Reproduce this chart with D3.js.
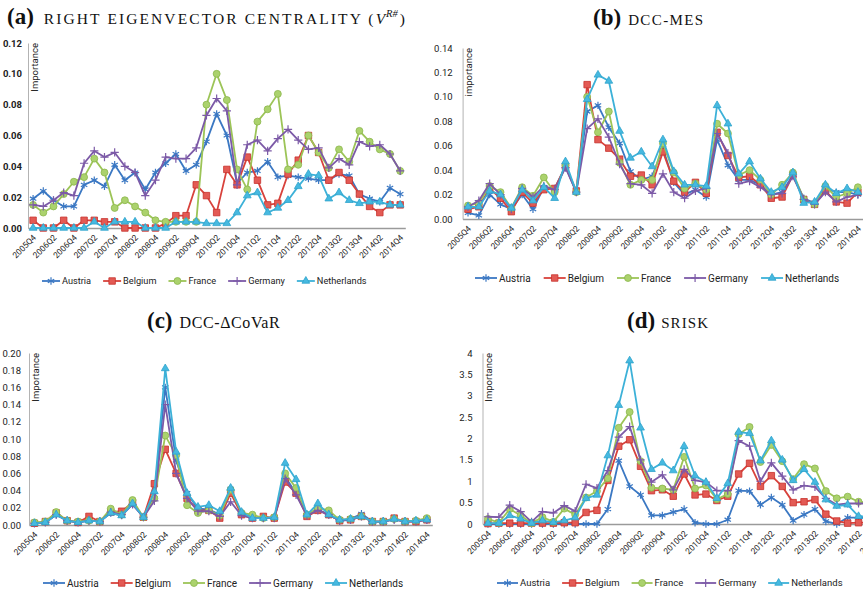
<!DOCTYPE html>
<html>
<head>
<meta charset="utf-8">
<script src="https://cdn.jsdelivr.net/npm/d3@7/dist/d3.min.js"></script>
<style>
    body { margin: 0; background: #fff; }
    svg text { font-family: Roboto, "Noto Sans", sans-serif; fill: #222; }
    .title text, text.title { font-family: "Liberation Serif", "DejaVu Serif", serif; fill: #111; }
</style>
</head>
<body>
<svg id="chart" width="863" height="593"></svg>
<script>
var quarters = ["2005Q4",
    "2006Q1","2006Q2","2006Q3","2006Q4","2007Q1","2007Q2","2007Q3","2007Q4",
    "2008Q1","2008Q2","2008Q3","2008Q4","2009Q1","2009Q2","2009Q3","2009Q4",
    "2010Q1","2010Q2","2010Q3","2010Q4","2011Q1","2011Q2","2011Q3","2011Q4",
    "2012Q1","2012Q2","2012Q3","2012Q4","2013Q1","2013Q2","2013Q3","2013Q4",
    "2014Q1","2014Q2","2014Q3","2014Q4"];
var countries = ["Austria", "Belgium", "France", "Germany", "Netherlands"];

// (a) right eigenvector centrality
var eigAustria = [0.019,0.024,0.018,0.014,0.014,0.028,0.031,0.027,0.041,0.031,0.036,0.025,0.036,0.042,0.048,0.037,0.041,0.056,0.074,0.060,0.029,0.036,0.037,0.043,0.033,0.034,0.033,0.032,0.031,0.031,0.035,0.034,0.022,0.019,0.017,0.026,0.022];
var eigBelgium = [0.005,0,0,0.005,0,0.005,0.005,0.004,0.004,0,0,0,0,0.003,0.008,0.008,0.028,0.021,0.010,0.038,0.028,0.046,0.031,0.015,0.016,0.035,0.044,0.060,0.049,0.031,0.036,0.031,0.022,0.014,0.010,0.015,0.015];
var eigFrance = [0.015,0.010,0.014,0.022,0.030,0.033,0.045,0.036,0.013,0.018,0.014,0.010,0.005,0.004,0.004,0.004,0.004,0.080,0.100,0.083,0.038,0.025,0.069,0.077,0.087,0.038,0.041,0.060,0.049,0.039,0.051,0.043,0.063,0.056,0.051,0.048,0.037];
var eigGermany = [0.015,0.014,0.018,0.023,0.021,0.042,0.050,0.046,0.049,0.040,0.036,0.021,0.031,0.046,0.045,0.045,0.052,0.073,0.084,0.076,0.028,0.054,0.057,0.050,0.058,0.064,0.057,0.051,0.052,0.039,0.045,0.041,0.056,0.053,0.054,0.048,0.037];
var eigNetherlands = [0,0,0,0,0,0,0.004,0,0.004,0.004,0.004,0,0,0,0.004,0.004,0.004,0.003,0.003,0.003,0.010,0.021,0.023,0.010,0.013,0.018,0.027,0.035,0.034,0.019,0.023,0.018,0.016,0.017,0.017,0.015,0.015];

// (b) DCC-MES
var mesAustria = [0.005,0.003,0.020,0.012,0.008,0.020,0.008,0.026,0.025,0.043,0.022,0.088,0.093,0.075,0.062,0.039,0.032,0.035,0.058,0.030,0.020,0.024,0.018,0.065,0.044,0.032,0.032,0.028,0.020,0.022,0.036,0.017,0.013,0.025,0.022,0.022,0.020];
var mesBelgium = [0.008,0.010,0.025,0.017,0.006,0.022,0.013,0.024,0.025,0.043,0.023,0.110,0.065,0.058,0.049,0.035,0.036,0.028,0.055,0.031,0.022,0.030,0.021,0.071,0.052,0.034,0.035,0.028,0.017,0.018,0.036,0.016,0.012,0.023,0.014,0.013,0.022];
var mesFrance = [0.011,0.013,0.027,0.022,0.009,0.026,0.019,0.034,0.022,0.044,0.022,0.100,0.071,0.088,0.046,0.028,0.032,0.032,0.062,0.038,0.025,0.029,0.024,0.078,0.070,0.036,0.040,0.032,0.020,0.028,0.038,0.016,0.012,0.027,0.018,0.021,0.026];
var mesGermany = [0.010,0.015,0.029,0.020,0.008,0.025,0.018,0.027,0.024,0.042,0.022,0.074,0.082,0.067,0.045,0.029,0.028,0.021,0.037,0.022,0.017,0.023,0.025,0.070,0.054,0.029,0.031,0.026,0.020,0.021,0.035,0.016,0.012,0.022,0.014,0.018,0.020];
var mesNetherlands = [0.010,0.010,0.023,0.020,0.009,0.024,0.015,0.026,0.017,0.047,0.022,0.098,0.118,0.113,0.072,0.050,0.055,0.043,0.065,0.039,0.028,0.028,0.027,0.093,0.078,0.037,0.047,0.033,0.022,0.026,0.038,0.013,0.014,0.028,0.021,0.025,0.022];

// (c) DCC-DeltaCoVaR
var covAustria = [0.002,0.003,0.012,0.005,0.003,0.005,0.004,0.014,0.011,0.024,0.009,0.035,0.160,0.075,0.037,0.019,0.018,0.012,0.042,0.013,0.008,0.008,0.008,0.056,0.037,0.011,0.018,0.012,0.005,0.007,0.013,0.004,0.004,0.007,0.004,0.005,0.006];
var covBelgium = [0.002,0.004,0.014,0.005,0.003,0.010,0.004,0.015,0.016,0.026,0.009,0.048,0.088,0.060,0.031,0.017,0.017,0.008,0.037,0.012,0.008,0.010,0.008,0.050,0.037,0.010,0.017,0.012,0.005,0.006,0.010,0.004,0.004,0.008,0.004,0.004,0.006];
var covFrance = [0.003,0.004,0.015,0.005,0.004,0.005,0.004,0.019,0.012,0.029,0.009,0.031,0.104,0.081,0.023,0.014,0.017,0.011,0.041,0.014,0.012,0.008,0.009,0.060,0.043,0.012,0.020,0.017,0.006,0.007,0.010,0.004,0.004,0.007,0.004,0.005,0.008];
var covGermany = [0.002,0.003,0.012,0.005,0.003,0.005,0.004,0.015,0.012,0.024,0.009,0.028,0.140,0.060,0.031,0.016,0.016,0.010,0.027,0.011,0.008,0.008,0.008,0.054,0.035,0.011,0.017,0.012,0.005,0.006,0.010,0.004,0.004,0.006,0.004,0.004,0.006];
var covNetherlands = [0.002,0.003,0.012,0.005,0.003,0.005,0.004,0.014,0.011,0.025,0.009,0.039,0.182,0.085,0.037,0.021,0.023,0.016,0.043,0.015,0.008,0.008,0.009,0.072,0.053,0.012,0.025,0.012,0.006,0.007,0.010,0.004,0.004,0.007,0.004,0.005,0.006];

// (d) SRISK
var sriskAustria = [0,0,0,0,0,0,0,0,0,0,0,0.35,1.48,0.88,0.68,0.20,0.20,0.28,0.35,0.03,0,0,0.10,0.78,0.77,0.45,0.62,0.45,0.08,0.22,0.35,0.06,0,0.15,0.15,0.14,0.12];
var sriskBelgium = [0.01,0.02,0.02,0.02,0.02,0.02,0.02,0.03,0.03,0.27,0.32,1.02,1.82,1.97,1.35,0.78,0.80,0.65,1.17,0.68,0.70,0.55,0.65,1.17,1.42,0.88,1.13,0.88,0.50,0.52,0.57,0.23,0.07,0.02,0.03,0.03,0.03];
var sriskFrance = [0.12,0.03,0.35,0.20,0.02,0.16,0.05,0.36,0.22,0.62,0.77,1.07,2.25,2.62,1.47,0.85,0.83,0.80,1.57,0.83,0.90,0.58,0.70,2.10,2.27,1.45,1.85,1.47,1.05,1.40,1.30,0.77,0.60,0.64,0.52,0.50,0.48];
var sriskGermany = [0.17,0.16,0.44,0.29,0.05,0.29,0.26,0.43,0.30,0.93,0.84,1.25,2.03,2.28,1.50,0.98,1.15,0.80,1.28,1.02,0.98,0.78,0.78,1.95,1.82,1.00,1.43,1.12,0.80,0.90,0.87,0.60,0.45,0.48,0.48,0.48,0.46];
var sriskNetherlands = [0.02,0.02,0.20,0.12,0.02,0.08,0.04,0.08,0.15,0.60,0.68,1.60,2.78,3.82,2.25,1.28,1.43,1.25,1.82,1.13,0.98,0.60,0.95,2.15,2.12,1.48,1.95,1.50,1.02,1.28,0.98,0.57,0.42,0.45,0.18,0.18,0.17];

// y tick values
var eigTicks = [0, 0.02, 0.04, 0.06, 0.08, 0.10, 0.12];
var mesTicks = [0, 0.02, 0.04, 0.06, 0.08, 0.10, 0.12, 0.14];
var covTicks = [0, 0.02, 0.04, 0.06, 0.08, 0.10, 0.12, 0.14, 0.16, 0.18, 0.20];
var sriskTicks = [0, 0.5, 1, 1.5, 2, 2.5, 3, 3.5, 4];
var quarterTicks = quarters.filter(function(q, i){ return i % 2 === 0; });

var lineColors = { Austria: "#3b78c3", Belgium: "#d8423c", France: "#9cc457", Germany: "#7c5aa7", Netherlands: "#3cb1d8" };
var markerStyles = {
    Austria:     { type: d3.symbolAsterisk, size: 38, fill: "none",    stroke: "#3b78c3", width: 1.2 },
    Belgium:     { type: d3.symbolSquare,   size: 42, fill: "#e35a54", stroke: "#c7312c", width: 0.8 },
    France:      { type: d3.symbolCircle,   size: 38, fill: "#abd26d", stroke: "#8cb64c", width: 0.8 },
    Germany:     { type: d3.symbolPlus,     size: 24, fill: "none",    stroke: "#7c5aa7", width: 1.2 },
    Netherlands: { type: d3.symbolTriangle, size: 26, fill: "#46b9e0", stroke: "#2ea3cc", width: 0.8 }
};

var svg = d3.select('#chart');

class LinePanel {
    constructor(opts){
        this.opts = opts;
        this.g = svg.append('g').attr('class', 'panel-' + opts.key);
        this.x = d3.scalePoint().domain(quarters).range([opts.x0, opts.x1]).padding(0.5);
        this.y = d3.scaleLinear().domain([0, opts.yMax]).range([opts.yBot, opts.yTop]);
    }

    Draw(){
        this.DrawAxes();
        this.DrawSeries();
        this.DrawLegend();
    }

    // axes, tick labels and the rotated axis name
    DrawAxes(){
        var o = this.opts;
        var yAxis = this.g.append('g')
            .attr('transform', 'translate(' + o.x0 + ',0)')
            .call(d3.axisLeft(this.y).tickValues(o.ticks).tickFormat(o.fmt).tickSize(0).tickSizeOuter(0).tickPadding(o.tickPad));
        yAxis.select('.domain').attr('stroke', '#b3b3b3');
        yAxis.selectAll('text')
            .style('font-size', '9.5px')
            .style('font-weight', o.boldTicks ? 'bold' : 'normal')
            .style('fill', '#222');

        var xAxis = this.g.append('g')
            .attr('transform', 'translate(0,' + o.yBot + ')')
            .call(d3.axisBottom(this.x).tickValues(quarterTicks).tickSize(0).tickSizeOuter(0));
        xAxis.select('.domain').attr('stroke', '#9a9a9a').attr('stroke-width', 1.3);
        xAxis.selectAll('text')
            .attr('y', 0)
            .attr('dy', '0.35em')
            .attr('text-anchor', 'end')
            .attr('transform', 'translate(1,8) rotate(-45)')
            .style('font-size', '8.4px')
            .style('fill', '#222');

        this.g.append('text')
            .attr('transform', 'translate(' + (o.x0 + 9.5) + ',' + o.yTop + ') rotate(-90)')
            .attr('text-anchor', 'end')
            .style('font-size', '9.5px')
            .text(o.axisName);
    }

    // one line plus markers per country
    DrawSeries(){
        var self = this;
        this.opts.series.forEach(function(values, k){
            var name = countries[k];
            var line = d3.line()
                .x(function(d, i){ return self.x(quarters[i]); })
                .y(function(d){ return self.y(d); });
            self.g.append('path')
                .datum(values)
                .attr('d', line)
                .attr('fill', 'none')
                .attr('stroke', lineColors[name])
                .attr('stroke-width', 1.8)
                .attr('stroke-linejoin', 'round');
            var m = markerStyles[name];
            self.g.append('g').selectAll('path')
                .data(values)
                .join('path')
                .attr('transform', function(d, i){
                    return 'translate(' + self.x(quarters[i]) + ',' + self.y(d) + ')';
                })
                .attr('d', d3.symbol().type(m.type).size(m.size))
                .attr('fill', m.fill)
                .attr('stroke', m.stroke)
                .attr('stroke-width', m.width);
        });
    }

    DrawLegend(){
        var o = this.opts;
        var self = this;
        var lx = o.legendX;
        countries.forEach(function(name){
            var m = markerStyles[name];
            self.g.append('line')
                .attr('x1', lx).attr('x2', lx + o.legendLine)
                .attr('y1', o.legendY).attr('y2', o.legendY)
                .attr('stroke', lineColors[name])
                .attr('stroke-width', 1.8);
            self.g.append('path')
                .attr('transform', 'translate(' + (lx + o.legendLine / 2) + ',' + o.legendY + ')')
                .attr('d', d3.symbol().type(m.type).size(m.size)())
                .attr('fill', m.fill)
                .attr('stroke', m.stroke)
                .attr('stroke-width', m.width);
            var t = self.g.append('text')
                .attr('x', lx + o.legendLine + 2)
                .attr('y', o.legendY)
                .attr('dy', '0.35em')
                .style('font-size', o.legendFont + 'px')
                .text(name);
            lx += o.legendLine + 2 + t.node().getComputedTextLength() + o.legendGap;
        });
    }
}

var panels = [
    { key: 'a', series: [eigAustria, eigBelgium, eigFrance, eigGermany, eigNetherlands],
      ticks: eigTicks, fmt: d3.format('.2f'), yMax: 0.12, x0: 28, x1: 405.3, yTop: 43, yBot: 228,
      tickPad: 6, boldTicks: true, axisName: 'Importance',
      legendX: 42, legendY: 281, legendLine: 18, legendFont: 9.2, legendGap: 12 },
    { key: 'b', series: [mesAustria, mesBelgium, mesFrance, mesGermany, mesNetherlands],
      ticks: mesTicks, fmt: d3.format('.2f'), yMax: 0.14, x0: 462.6, x1: 863.3, yTop: 48, yBot: 219,
      tickPad: 10, boldTicks: false, axisName: 'importance',
      legendX: 475, legendY: 278, legendLine: 22, legendFont: 10, legendGap: 13 },
    { key: 'c', series: [covAustria, covBelgium, covFrance, covGermany, covNetherlands],
      ticks: covTicks, fmt: d3.format('.2f'), yMax: 0.20, x0: 29, x1: 432.3, yTop: 353, yBot: 525,
      tickPad: 8, boldTicks: false, axisName: 'Importance',
      legendX: 43, legendY: 583, legendLine: 22, legendFont: 10, legendGap: 12 },
    { key: 'd', series: [sriskAustria, sriskBelgium, sriskFrance, sriskGermany, sriskNetherlands],
      ticks: sriskTicks, fmt: d3.format('~g'), yMax: 4, x0: 482.5, x1: 885.8, yTop: 353, yBot: 524,
      tickPad: 10, boldTicks: false, axisName: 'Importance',
      legendX: 497, legendY: 583, legendLine: 21, legendFont: 9.5, legendGap: 12 }
];

panels.forEach(function(p){
    new LinePanel(p).Draw();
});

// panel titles
var titles = svg.append('g').attr('class', 'title');

var ta = titles.append('text').attr('x', 7).attr('y', 24);
ta.append('tspan').style('font-weight', 'bold').style('font-size', '23px').text('(a)');
ta.append('tspan').attr('dx', 10).style('font-size', '15.5px').style('letter-spacing', '2.1px').text('RIGHT EIGENVECTOR CENTRALITY (');
ta.append('tspan').style('font-size', '15.5px').style('font-style', 'italic').text('V');
ta.append('tspan').attr('dy', -7).attr('dx', 1).style('font-size', '10.5px').style('font-style', 'italic').text('R#');
ta.append('tspan').attr('dy', 7).attr('dx', 2).style('font-size', '15.5px').text(')');

var tb = titles.append('text').attr('x', 593).attr('y', 25);
tb.append('tspan').style('font-weight', 'bold').style('font-size', '23px').text('(b)');
tb.append('tspan').attr('dx', 7).style('font-size', '15px').style('letter-spacing', '1.4px').text('DCC-MES');

var tc = titles.append('text').attr('x', 147).attr('y', 328);
tc.append('tspan').style('font-weight', 'bold').style('font-size', '23px').text('(c)');
tc.append('tspan').attr('dx', 7).style('font-size', '16px').style('letter-spacing', '0.6px').text('DCC-ΔCoVaR');

var td = titles.append('text').attr('x', 627).attr('y', 328);
td.append('tspan').style('font-weight', 'bold').style('font-size', '23px').text('(d)');
td.append('tspan').attr('dx', 6).style('font-size', '15px').style('letter-spacing', '1.1px').text('SRISK');
</script>
</body>
</html>
